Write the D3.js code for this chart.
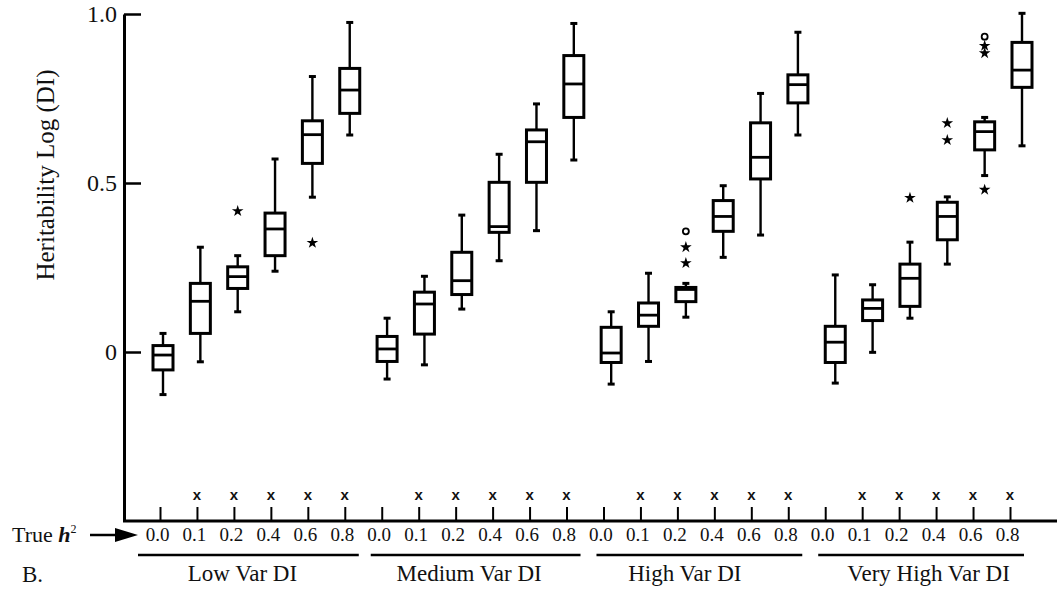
<!DOCTYPE html>
<html><head><meta charset="utf-8">
<script src="https://cdn.jsdelivr.net/npm/d3@7"></script>
<style>body{margin:0;background:#fff}svg{display:block}
svg text{font-family:"Liberation Serif","Times New Roman",Times,serif;fill:#111}
svg text.xm{font-family:"Liberation Sans",Arial,sans-serif}
</style>
</head><body>
<svg id="c" width="1057" height="597"></svg>
<script>
const groups = ["Low Var DI", "Medium Var DI", "High Var DI", "Very High Var DI"];
const trueH2 = ["0.0", "0.1", "0.2", "0.4", "0.6", "0.8"];
const whiskerLow = [-0.126,-0.029,0.119,0.239,0.458,0.642, -0.08,-0.038,0.127,0.27,0.359,0.568, -0.095,-0.028,0.103,0.28,0.346,0.642, -0.092,-0.001,0.1,0.26,0.522,0.61];
const q1 =         [-0.053,0.055,0.188,0.285,0.558,0.706, -0.028,0.053,0.17,0.354,0.502,0.694, -0.031,0.076,0.149,0.357,0.512,0.737, -0.031,0.093,0.135,0.332,0.598,0.783];
const median =     [-0.009,0.15,0.223,0.364,0.643,0.775, 0.009,0.142,0.211,0.371,0.622,0.793, -0.003,0.109,0.185,0.401,0.576,0.791, 0.029,0.129,0.218,0.401,0.652,0.834];
const q3 =         [0.019,0.203,0.252,0.411,0.684,0.839, 0.046,0.177,0.295,0.502,0.657,0.877, 0.073,0.145,0.191,0.448,0.678,0.82, 0.076,0.154,0.26,0.443,0.681,0.916];
const whiskerHigh =[0.055,0.31,0.285,0.571,0.815,0.975, 0.10,0.224,0.405,0.585,0.734,0.972, 0.119,0.233,0.203,0.492,0.765,0.946, 0.228,0.199,0.325,0.459,0.694,1.002];
// outliers: box index, value, kind
const outlierBox =   [2, 4, 14, 14, 14, 20, 21, 21, 22, 22, 22, 22];
const outlierValue = [0.417, 0.323, 0.263, 0.31, 0.357, 0.456, 0.677, 0.627, 0.48, 0.884, 0.906, 0.933];
const outlierKind =  ["star","star","star","star","circle","star","star","star","star","star","star","circle"];
const yTicks = [0, 0.5, 1.0];
const yTickLabels = ["0", "0.5", "1.0"];

// layout nudges (not data)
const underlineStart = [-22, -11, -7, -7];
const groupLabelDx = [-10, -5, -11, 11];

const keys = d3.range(groups.length * trueH2.length);
const svg = d3.select("#c");

const y = d3.scaleLinear().domain([-0.5, 1.0]).range([521, 14]);
const xBox = d3.scalePoint().domain(keys).range([163, 1022]);
const xAxisS = d3.scalePoint().domain(keys).range([160, 1010]);

// Y axis
const yAxis = svg.append("g").attr("transform", "translate(124,0)")
  .call(d3.axisLeft(y).tickValues(yTicks).tickFormat((d, i) => yTickLabels[i])
    .tickSizeInner(-17).tickSizeOuter(0).tickPadding(7));
yAxis.attr("font-family", null).attr("font-size", null);
yAxis.select(".domain").attr("stroke", "#000").attr("stroke-width", 3);
yAxis.selectAll(".tick line").attr("stroke", "#000").attr("stroke-width", 2.5);
yAxis.selectAll(".tick text").style("font-size", "24px").attr("fill", "#111");

svg.append("text").attr("transform", "translate(54,175) rotate(-90)")
  .attr("text-anchor", "middle").style("font-size", "25px").text("Heritability Log (DI)");

// X axis baseline
svg.append("line").attr("x1", 123).attr("x2", 1057).attr("y1", y(-0.5)).attr("y2", y(-0.5))
  .attr("stroke", "#000").attr("stroke-width", 3);
const xAxis = svg.append("g").attr("transform", `translate(0,${y(-0.5)})`)
  .call(d3.axisBottom(xAxisS).tickFormat(d => trueH2[d % trueH2.length])
    .tickSizeInner(-14).tickSizeOuter(0).tickPadding(7));
xAxis.attr("font-family", null).attr("font-size", null);
xAxis.select(".domain").remove();
xAxis.selectAll(".tick line").attr("stroke", "#000").attr("stroke-width", 2);
xAxis.selectAll(".tick text").style("font-size", "19px").attr("fill", "#111").attr("dx", -3);

// x marks
svg.append("g").selectAll("text").data(keys.filter(k => k % trueH2.length !== 0)).join("text")
  .attr("class", "xm")
  .attr("x", d => xAxisS(d)).attr("y", 500).attr("text-anchor", "middle")
  .style("font-size", "15px").attr("font-weight", "bold").text("x");

// group underlines & labels
groups.forEach((g, gi) => {
  const first = gi * trueH2.length, last = first + trueH2.length - 1;
  const x0 = xAxisS(first) + underlineStart[gi], x1 = xAxisS(last) + 14;
  svg.append("line").attr("x1", x0).attr("x2", x1).attr("y1", 555).attr("y2", 555)
    .attr("stroke", "#000").attr("stroke-width", 2.4);
  svg.append("text").attr("x", (xAxisS(first) + xAxisS(last)) / 2 + groupLabelDx[gi]).attr("y", 581)
    .attr("text-anchor", "middle").style("font-size", "23px").text(g);
});

// True h² with arrow
const th = svg.append("text").attr("x", 12).attr("y", 542).style("font-size", "22px");
th.append("tspan").text("True ");
th.append("tspan").attr("font-style", "italic").attr("font-weight", "bold").text("h");
th.append("tspan").style("font-size", "12px").attr("dy", -9).text("2");
svg.append("line").attr("x1", 90).attr("x2", 118).attr("y1", 535).attr("y2", 535)
  .attr("stroke", "#000").attr("stroke-width", 2.5);
svg.append("path").attr("d", "M115,528 L138,535 L115,542 Z").attr("fill", "#000");
svg.append("text").attr("x", 22).attr("y", 582).style("font-size", "23px").text("B.");

// boxes
const bw = 20, cap = 7;
const bx = svg.append("g").attr("stroke", "#000").attr("fill", "none");
keys.forEach(i => {
  const cx = xBox(i);
  const gg = bx.append("g");
  gg.append("line").attr("x1", cx).attr("x2", cx).attr("y1", y(whiskerHigh[i])).attr("y2", y(q3[i])).attr("stroke-width", 2.4);
  gg.append("line").attr("x1", cx).attr("x2", cx).attr("y1", y(q1[i])).attr("y2", y(whiskerLow[i])).attr("stroke-width", 2.4);
  gg.append("line").attr("x1", cx - cap / 2).attr("x2", cx + cap / 2).attr("y1", y(whiskerHigh[i])).attr("y2", y(whiskerHigh[i])).attr("stroke-width", 3);
  gg.append("line").attr("x1", cx - cap / 2).attr("x2", cx + cap / 2).attr("y1", y(whiskerLow[i])).attr("y2", y(whiskerLow[i])).attr("stroke-width", 3);
  gg.append("rect").attr("x", cx - bw / 2).attr("width", bw).attr("y", y(q3[i]))
    .attr("height", y(q1[i]) - y(q3[i])).attr("stroke-width", 3).attr("fill", "#fff");
  gg.append("line").attr("x1", cx - bw / 2).attr("x2", cx + bw / 2).attr("y1", y(median[i])).attr("y2", y(median[i])).attr("stroke-width", 2.8);
});

// outliers
const star = d3.symbol().type(d3.symbolStar).size(42);
outlierBox.forEach((b, j) => {
  const cx = xBox(b), cy = y(outlierValue[j]);
  if (outlierKind[j] === "star") {
    svg.append("path").attr("d", star()).attr("transform", `translate(${cx},${cy})`).attr("fill", "#000");
  } else {
    svg.append("circle").attr("cx", cx).attr("cy", cy).attr("r", 3).attr("fill", "none")
      .attr("stroke", "#000").attr("stroke-width", 1.8);
  }
});
</script>
</body></html>
